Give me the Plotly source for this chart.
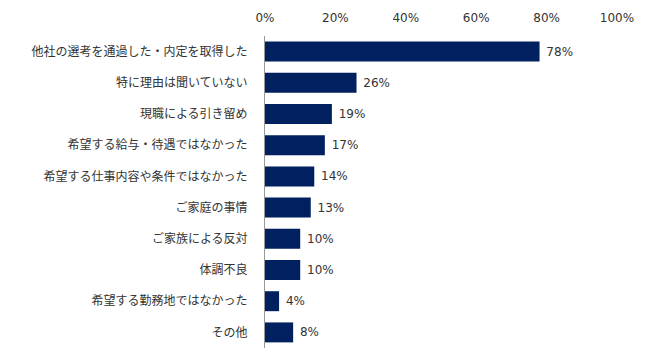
import plotly.graph_objects as go

categories = [
    "他社の選考を通過した・内定を取得した",
    "特に理由は聞いていない",
    "現職による引き留め",
    "希望する給与・待遇ではなかった",
    "希望する仕事内容や条件ではなかった",
    "ご家庭の事情",
    "ご家族による反対",
    "体調不良",
    "希望する勤務地ではなかった",
    "その他",
]
values = [78, 26, 19, 17, 14, 13, 10, 10, 4, 8]
tick_vals = [0, 20, 40, 60, 80, 100]
tick_text = ["0%", "20%", "40%", "60%", "80%", "100%"]

font_family = "DejaVu Sans, Noto Sans CJK JP, sans-serif"

fig = go.Figure(
    go.Bar(
        x=values,
        y=categories,
        orientation="h",
        marker=dict(color="#002060", line=dict(width=0)),
        text=[f" {v}%" for v in values],
        textposition="outside",
        textfont=dict(size=12, color="#333333", family=font_family),
        cliponaxis=False,
        width=0.64,
    )
)

# page body has an 8px margin, so the figure is made 8px smaller and margins shifted
fig.update_layout(
    width=642,
    height=356,
    margin=dict(l=257, r=33, t=28, b=16),
    plot_bgcolor="white",
    paper_bgcolor="white",
    font=dict(family=font_family, size=12, color="#333333"),
    showlegend=False,
)
fig.update_xaxes(
    range=[0, 100],
    side="top",
    tickvals=tick_vals,
    ticktext=tick_text,
    showgrid=False,
    zeroline=False,
    showline=False,
    ticks="",
    automargin=False,
    ticklabelstandoff=11,
    tickfont=dict(size=12, color="#333333"),
)
fig.update_yaxes(
    autorange="reversed",
    showgrid=False,
    zeroline=False,
    showline=True,
    linecolor="#999999",
    linewidth=1,
    ticks="",
    automargin=False,
    ticklabelstandoff=14,
    tickfont=dict(size=12, color="#333333", family="Noto Sans CJK JP, sans-serif"),
)

fig.write_html("out.html")
